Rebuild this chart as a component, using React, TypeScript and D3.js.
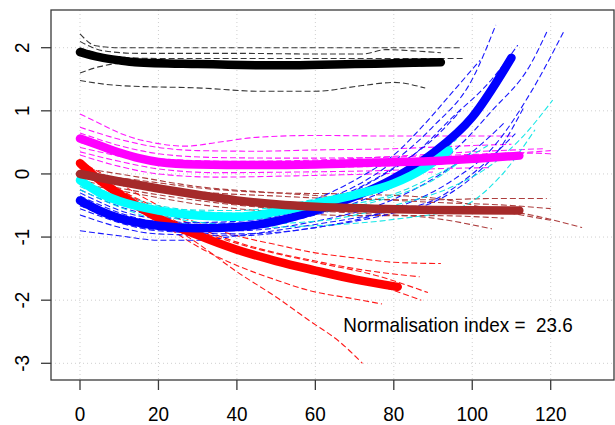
import React from "react";
import * as d3 from "d3";

type Pt = [number, number];

const xTicks = [0, 20, 40, 60, 80, 100, 120];
const yTicks = [-3, -2, -1, 0, 1, 2];
const annotation = "Normalisation index =  23.6";

// thick group curves
const blackMean: Pt[] = [[0, 1.93], [5, 1.85], [10, 1.8], [14, 1.77], [30, 1.74], [54, 1.72], [70, 1.74], [85, 1.76], [92, 1.77]];
const magentaMean: Pt[] = [[0, 0.56], [5, 0.45], [10, 0.34], [15, 0.25], [20, 0.19], [30, 0.15], [45, 0.14], [60, 0.15], [75, 0.18], [92, 0.21], [112, 0.29]];
const brownMean: Pt[] = [[0, 0.0], [10, -0.12], [20, -0.23], [30, -0.33], [40, -0.42], [50, -0.48], [60, -0.52], [75, -0.55], [90, -0.57], [112, -0.58]];
const redMean: Pt[] = [[0, 0.17], [5, -0.1], [10, -0.32], [15, -0.52], [20, -0.7], [30, -0.97], [40, -1.2], [50, -1.38], [60, -1.53], [70, -1.67], [81, -1.79]];
const blueMean: Pt[] = [[0, -0.42], [5, -0.58], [10, -0.7], [20, -0.82], [30, -0.86], [40, -0.84], [50, -0.75], [60, -0.58], [70, -0.36], [80, -0.07], [90, 0.33], [100, 0.9], [110, 1.84]];
const cyanMean: Pt[] = [[0, -0.1], [5, -0.3], [10, -0.43], [20, -0.58], [30, -0.66], [40, -0.68], [50, -0.6], [60, -0.47], [70, -0.33], [80, -0.15], [88, 0.1], [94, 0.37]];

// individual (dashed) curves
const blackLines: Pt[][] = [
  [[0, 2.22], [4, 2.03], [10, 2.0], [40, 2.0], [70, 2.0], [97, 2.0]],
  [[0, 2.1], [6, 1.95], [15, 1.91], [40, 1.91], [60, 1.9], [72, 1.9], [78, 1.97], [85, 1.95], [92, 1.92]],
  [[0, 2.0], [8, 1.86], [20, 1.83], [50, 1.83], [70, 1.83], [98, 1.83]],
  [[0, 1.48], [10, 1.4], [31, 1.36], [46, 1.31], [60, 1.31], [72, 1.4], [80, 1.45], [88, 1.36]],
  [[0, 1.6], [5, 1.7], [12, 1.76], [30, 1.74], [60, 1.7], [85, 1.71], [92, 1.73]],
];
const magentaLines: Pt[][] = [
  [[0, 0.95], [5, 0.8], [10, 0.65], [20, 0.48], [27, 0.44], [35, 0.5], [45, 0.58], [60, 0.61], [80, 0.6], [95, 0.6], [110, 0.6]],
  [[0, 0.74], [10, 0.55], [20, 0.42], [30, 0.37], [45, 0.36], [60, 0.38], [80, 0.4], [100, 0.45], [110, 0.47]],
  [[0, 0.65], [10, 0.45], [20, 0.32], [35, 0.26], [55, 0.25], [75, 0.26], [95, 0.3], [115, 0.33], [120, 0.32]],
  [[0, 0.5], [10, 0.35], [20, 0.24], [40, 0.2], [60, 0.22], [80, 0.28], [100, 0.35], [118, 0.4]],
  [[0, 0.42], [10, 0.28], [20, 0.16], [35, 0.1], [55, 0.1], [75, 0.12], [95, 0.2], [110, 0.32], [120, 0.37]],
  [[0, 0.35], [10, 0.2], [20, 0.08], [35, 0.02], [55, 0.03], [75, 0.05], [95, 0.09], [105, 0.1]],
  [[0, 0.3], [10, 0.12], [20, 0.0], [35, -0.05], [55, -0.03], [75, 0.0], [90, 0.03]],
];
const brownLines: Pt[][] = [
  [[0, 0.05], [15, -0.15], [30, -0.28], [50, -0.35], [70, -0.4], [90, -0.41], [105, -0.39], [119, -0.39]],
  [[0, -0.05], [15, -0.2], [30, -0.35], [50, -0.45], [70, -0.5], [90, -0.52], [110, -0.6], [128, -0.85]],
  [[0, -0.1], [15, -0.28], [30, -0.42], [50, -0.55], [70, -0.62], [90, -0.7], [105, -0.87]],
  [[0, 0.1], [15, -0.05], [30, -0.2], [50, -0.3], [70, -0.38], [90, -0.45], [110, -0.5], [120, -0.55]],
  [[0, -0.15], [15, -0.32], [30, -0.48], [50, -0.6], [70, -0.66], [90, -0.66], [108, -0.7]],
  [[0, 0.0], [15, -0.1], [30, -0.22], [50, -0.3], [70, -0.32], [90, -0.38], [108, -0.6], [120.6, -0.74]],
];
const redLines: Pt[][] = [
  [[0, 0.1], [10, -0.3], [20, -0.7], [30, -1.1], [40, -1.55], [50, -1.95], [58.6, -2.33], [66, -2.65], [72, -3.0]],
  [[0, 0.05], [10, -0.35], [20, -0.75], [30, -1.15], [40, -1.45], [50, -1.68], [58, -1.84], [70, -1.98], [77, -2.06]],
  [[0, 0.15], [20, -0.6], [40, -1.2], [60, -1.55], [75, -1.75], [87, -2.0]],
  [[0, 0.2], [10, -0.15], [20, -0.5], [30, -0.78], [40, -0.98], [50, -1.12], [60, -1.25], [70, -1.33], [80, -1.4], [92, -1.42]],
  [[0, 0.12], [10, -0.25], [20, -0.55], [30, -0.85], [40, -1.08], [50, -1.25], [60, -1.38], [70, -1.5], [86.6, -1.63]],
  [[0, 0.1], [20, -0.65], [40, -1.1], [60, -1.4], [75, -1.6], [88.7, -1.88]],
];
const blueLines: Pt[][] = [
  [[0, -0.3], [20, -0.7], [40, -0.7], [60, -0.45], [70, -0.2], [80, 0.2], [90, 0.75], [100, 1.5], [106, 2.36]],
  [[0, -0.35], [20, -0.75], [40, -0.78], [60, -0.55], [75, -0.1], [85, 0.3], [95, 0.9], [105, 1.5], [111.6, 2.04]],
  [[0, -0.5], [20, -0.85], [40, -0.85], [60, -0.65], [80, -0.2], [95, 0.35], [105, 1.0], [115, 1.75], [119, 2.25]],
  [[0, -0.55], [20, -0.9], [40, -0.95], [60, -0.85], [80, -0.55], [95, -0.1], [105, 0.4], [115, 1.3], [123.6, 2.29]],
  [[0, -0.65], [20, -0.95], [40, -0.98], [60, -0.85], [80, -0.62], [90, -0.45], [100, -0.05], [107, 0.4], [113, 1.04]],
  [[0, -0.9], [10, -0.98], [20, -1.05], [30, -1.05], [40, -0.98], [60, -0.8], [80, -0.58], [90, -0.42], [100, 0.0], [111, 0.64]],
  [[0, -0.45], [20, -0.78], [40, -0.75], [60, -0.5], [70, -0.25], [80, 0.1], [90, 0.55], [97, 1.0]],
  [[0, -0.25], [20, -0.65], [40, -0.68], [60, -0.4], [70, -0.1], [80, 0.3], [88, 0.8], [95, 1.3], [102, 1.8]],
  [[0, -0.5], [20, -0.88], [40, -0.9], [60, -0.75], [80, -0.4], [92, 0.0], [100, 0.35], [108, 0.8]],
];
const cyanLines: Pt[][] = [
  [[0, -0.2], [20, -0.65], [40, -0.8], [60, -0.75], [80, -0.5], [95, -0.2], [105, 0.15], [113, 0.6], [120.5, 1.17]],
  [[0, -0.25], [20, -0.72], [40, -0.85], [60, -0.82], [80, -0.72], [97, -0.53], [107, -0.05], [116, 0.7]],
  [[0, 0.0], [20, -0.5], [40, -0.62], [60, -0.55], [80, -0.32], [94, 0.09], [104, 0.45]],
  [[0, -0.05], [20, -0.55], [40, -0.58], [60, -0.4], [75, -0.2], [88, 0.15], [96, 0.55]],
  [[0, -0.15], [20, -0.6], [40, -0.72], [60, -0.62], [80, -0.35], [90, -0.1], [100, 0.35]],
];

const groups = [
  { color: "#000000", thin: "#222222", lines: blackLines, mean: blackMean },
  { color: "#ff00ff", thin: "#ff00ff", lines: magentaLines, mean: magentaMean },
  { color: "#a52a2a", thin: "#a52a2a", lines: brownLines, mean: brownMean },
  { color: "#ff0000", thin: "#ff0000", lines: redLines, mean: redMean },
  { color: "#0000ff", thin: "#0000ff", lines: blueLines, mean: blueMean },
  { color: "#00ffff", thin: "#00e5e5", lines: cyanLines, mean: cyanMean },
];
// draw order of the thick curves
const meanOrder = [3, 4, 5, 2, 1, 0];

const W = 615;
const H = 425;
const box = { left: 51, right: 614, top: 10, bottom: 380 };

const x = d3.scaleLinear().domain([0, 120]).range([80, 550.7]);
const y = d3.scaleLinear().domain([-3, 2]).range([363.3, 47.7]);

const line = d3
  .line<Pt>()
  .x((d) => x(d[0]))
  .y((d) => y(d[1]))
  .curve(d3.curveMonotoneX);

const font = "'Liberation Sans', Arial, sans-serif";

export default function App() {
  return (
    <svg width={W} height={H} style={{ position: "absolute", left: 0, top: 0, background: "#fff" }}>
      <defs>
        <clipPath id="plot">
          <rect x={box.left} y={box.top} width={box.right - box.left} height={box.bottom - box.top} />
        </clipPath>
      </defs>
      {/* grid */}
      <g stroke="#cfcfcf" strokeWidth={1} strokeDasharray="1,3">
        {xTicks.map((t) => (
          <line key={"gx" + t} x1={x(t)} x2={x(t)} y1={box.top} y2={box.bottom} />
        ))}
        {yTicks.map((t) => (
          <line key={"gy" + t} x1={box.left} x2={box.right} y1={y(t)} y2={y(t)} />
        ))}
      </g>
      <g clipPath="url(#plot)" fill="none">
        {groups.map((g, gi) => (
          <g key={"thin" + gi} stroke={g.thin} strokeWidth={1.1} strokeDasharray="6,3" opacity={0.9}>
            {g.lines.map((l, i) => (
              <path key={i} d={line(l) || ""} />
            ))}
          </g>
        ))}
        {meanOrder.map((gi) => (
          <path
            key={"mean" + gi}
            d={line(groups[gi].mean) || ""}
            stroke={groups[gi].color}
            strokeWidth={8.5}
            strokeLinecap="round"
            strokeLinejoin="round"
          />
        ))}
      </g>
      {/* frame */}
      <rect
        x={box.left}
        y={box.top}
        width={box.right - box.left}
        height={box.bottom - box.top}
        fill="none"
        stroke="#3a3a3a"
        strokeWidth={1.3}
      />
      {/* ticks */}
      <g stroke="#3a3a3a" strokeWidth={1.3}>
        {xTicks.map((t) => (
          <line key={"tx" + t} x1={x(t)} x2={x(t)} y1={box.bottom} y2={box.bottom + 10} />
        ))}
        {yTicks.map((t) => (
          <line key={"ty" + t} x1={box.left} x2={box.left - 10} y1={y(t)} y2={y(t)} />
        ))}
      </g>
      <g fontFamily={font} fontSize={21} fill="#000">
        {xTicks.map((t) => (
          <text key={"lx" + t} transform={`translate(${x(t)},421) scale(0.9,1)`} textAnchor="middle">
            {t}
          </text>
        ))}
        {yTicks.map((t) => (
          <text key={"ly" + t} transform={`translate(29,${y(t)}) rotate(-90) scale(0.9,1)`} textAnchor="middle">
            {t}
          </text>
        ))}
        <text transform="translate(343.3,332.3) scale(0.9,1)" style={{ whiteSpace: "pre" }}>
          {annotation}
        </text>
      </g>
    </svg>
  );
}
